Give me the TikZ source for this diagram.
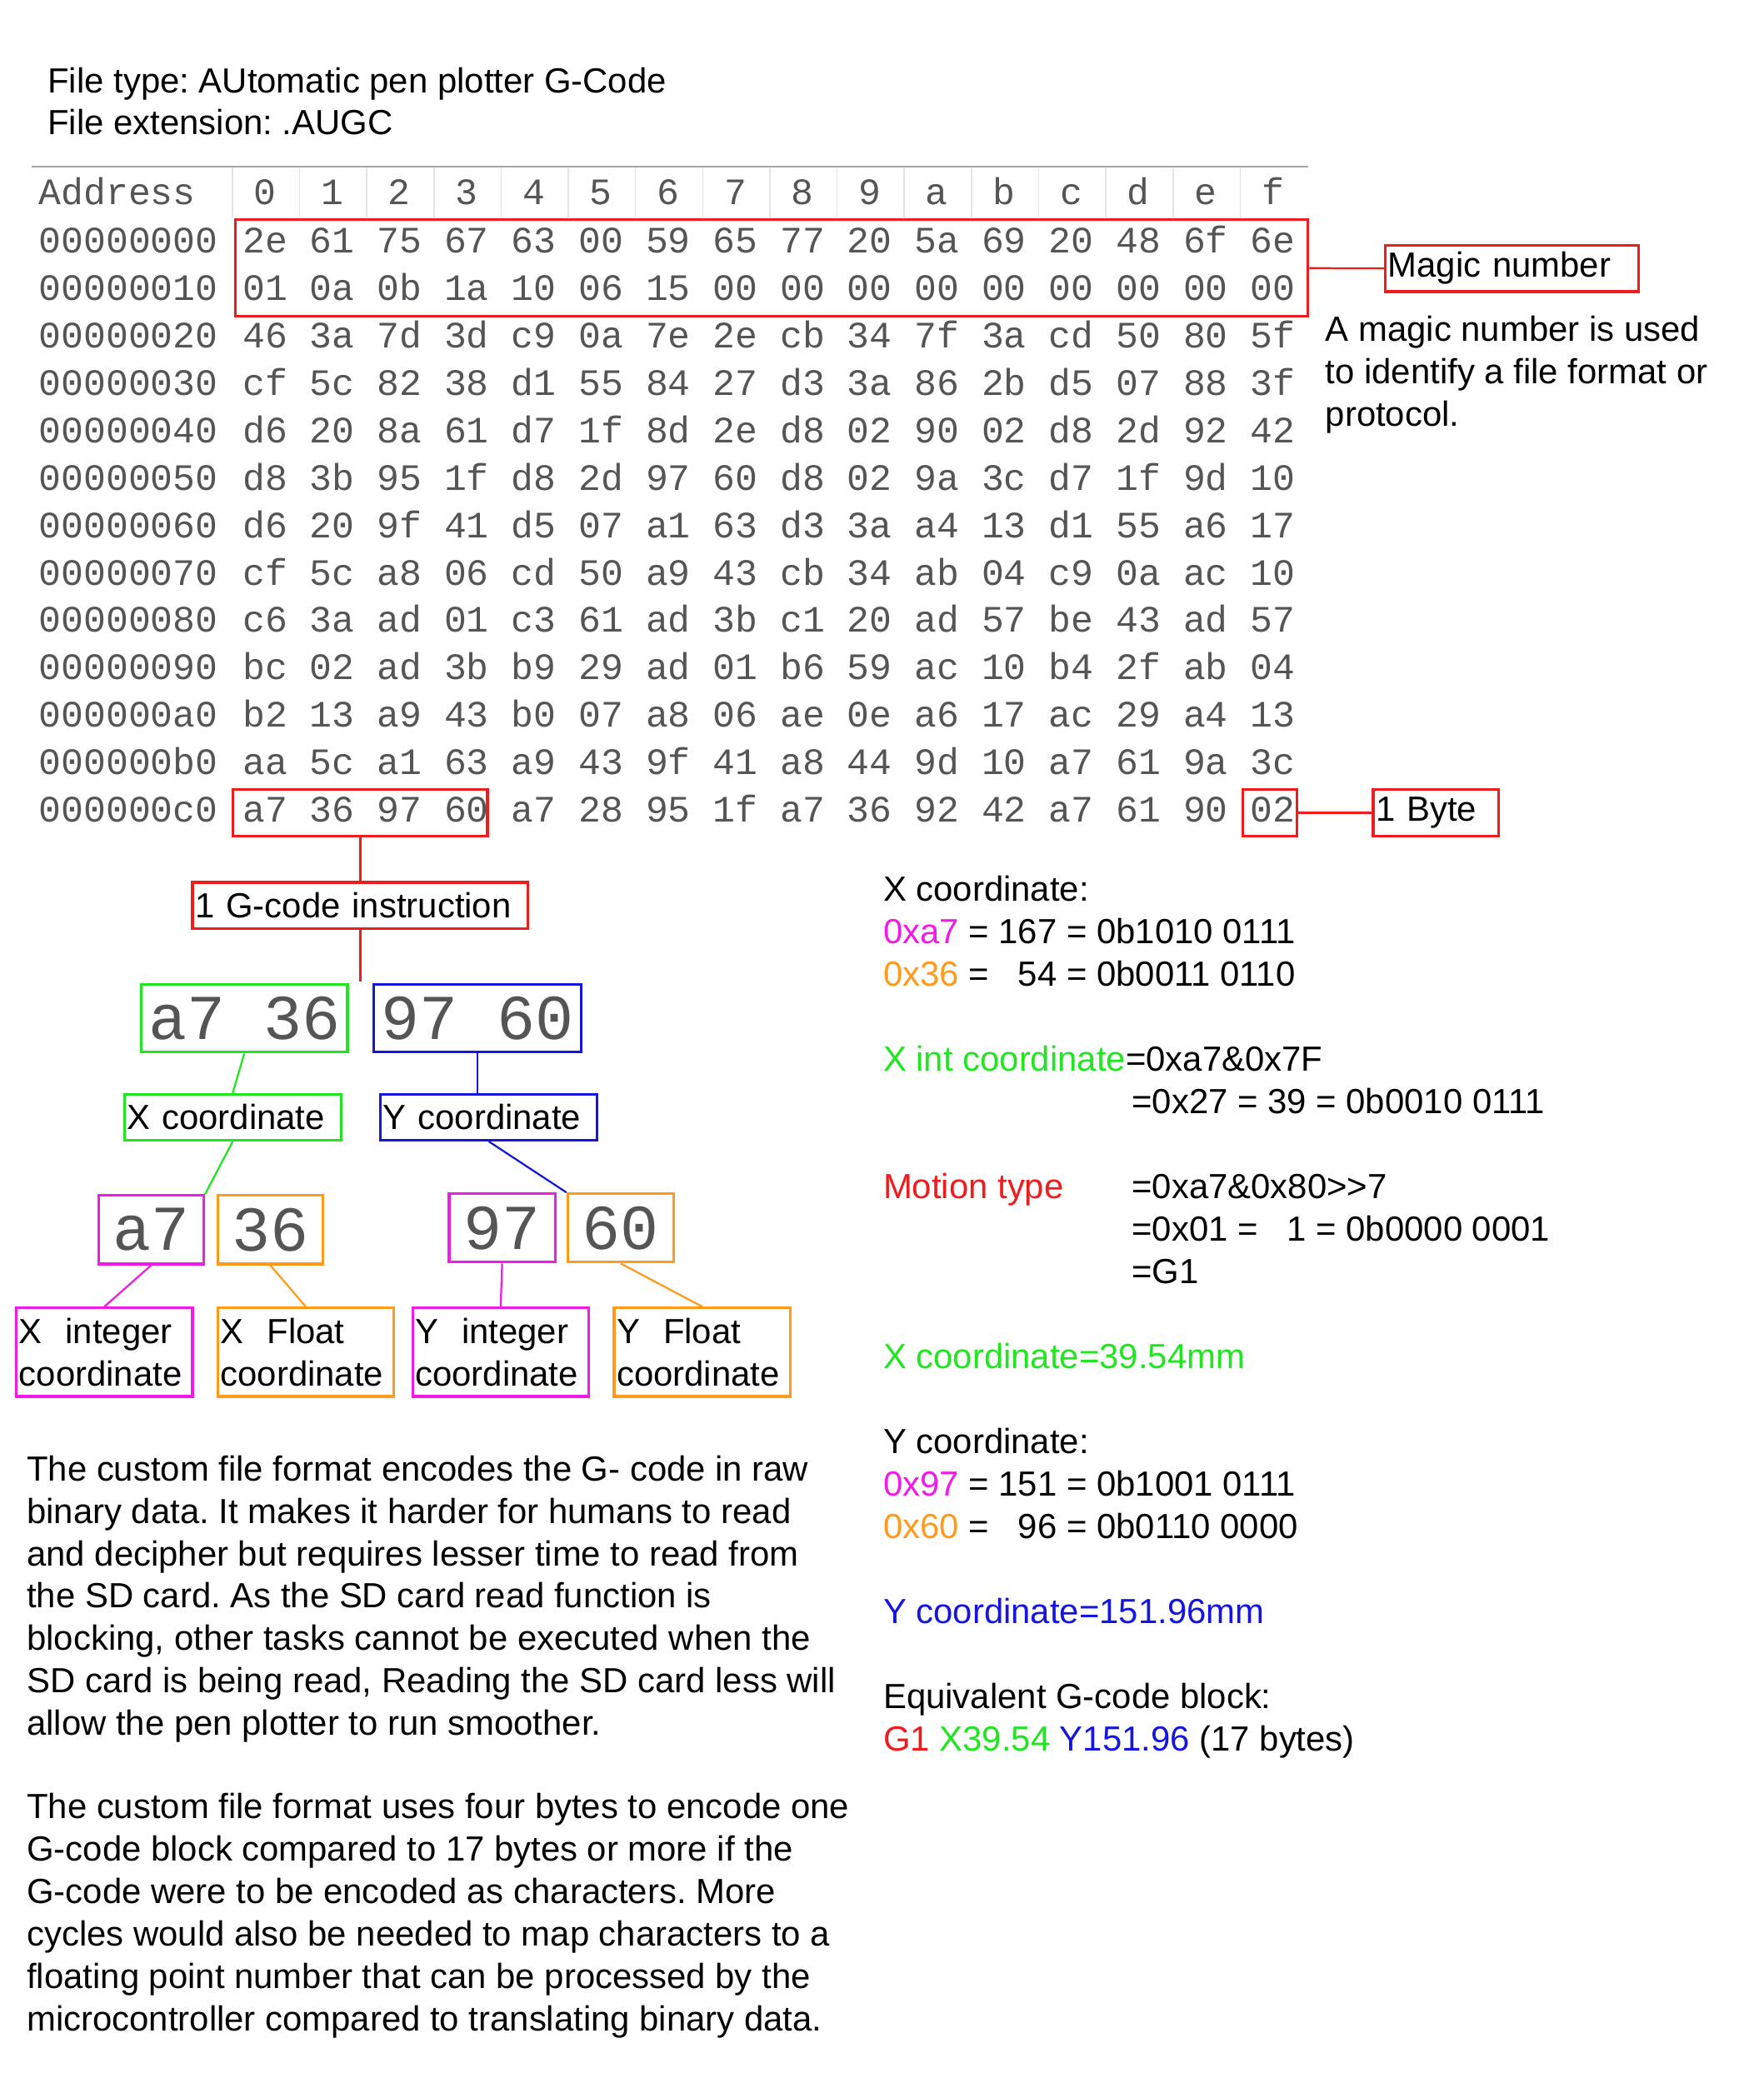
\documentclass[tikz,border=0pt]{standalone}
\usepackage{fontspec}
\setmainfont{Liberation Sans}
\setmonofont{Liberation Mono}
\usepackage{xcolor}
\frenchspacing
\definecolor{hexgray}{HTML}{555555}
\definecolor{ruleclr}{HTML}{A6A6A6}
\definecolor{sepclr}{HTML}{E4E4E4}
\definecolor{tagred}{HTML}{EE1C1C}
\definecolor{taggreen}{HTML}{22E522}
\definecolor{tagblue}{HTML}{1515DD}
\definecolor{tagpink}{HTML}{F01BE8}
\definecolor{tagorange}{HTML}{FF9A1A}
\newcommand{\txtfont}{\fontsize{26.2}{32}\selectfont}
\newcommand{\hexfont}{\ttfamily\fontsize{28}{34}\selectfont}
\newcommand{\bytefont}{\ttfamily\fontsize{48}{56}\selectfont}
\tikzset{
  hexcell/.style={font=\hexfont, text=hexgray, inner sep=0pt, anchor=base},
  tagbox/.style={draw=#1, line width=2pt, font=\txtfont, align=left, inner xsep=2pt, inner ysep=0pt},
  bytebox/.style={draw=#1, line width=2pt, font=\bytefont, text=hexgray, inner sep=0pt},
  link/.style={draw=#1, line width=1.4pt},
  say/.style={font=\txtfont, anchor=base west, inner sep=0pt},
}

\begin{document}
\begin{tikzpicture}[x=1pt,y=-1pt]
        \pgfmathsetmacro{\colw}{50.44}
        \pgfmathsetmacro{\rowh}{35.6}
        \useasboundingbox (0,0) rectangle (1324,1564);
        % heading
        \node[say] (ftype) at (35.7,69.8) {File type: AUtomatic pen plotter G-Code};
        \node[say] (fext) at (35.7,101) {File extension: .AUGC};
        % hex dump
        \draw[ruleclr, line width=1.5pt] (24,125) -- (982,125);
        \foreach \j in {0,...,15}
            \draw[sepclr, line width=1pt] ({174.5+\colw*\j},126) -- ++(0,37);
        \node[hexcell, anchor=base west] (addrhead) at (29,153.5) {Address};
        \foreach \h [count=\j from 0] in {0,1,2,3,4,5,6,7,8,9,a,b,c,d,e,f}
            \node[hexcell] (col\j) at ({199+\colw*\j},153.5) {\h};
        \foreach \addr/\bytes [count=\r from 0] in {
                00000000/{2e,61,75,67,63,00,59,65,77,20,5a,69,20,48,6f,6e},
                00000010/{01,0a,0b,1a,10,06,15,00,00,00,00,00,00,00,00,00},
                00000020/{46,3a,7d,3d,c9,0a,7e,2e,cb,34,7f,3a,cd,50,80,5f},
                00000030/{cf,5c,82,38,d1,55,84,27,d3,3a,86,2b,d5,07,88,3f},
                00000040/{d6,20,8a,61,d7,1f,8d,2e,d8,02,90,02,d8,2d,92,42},
                00000050/{d8,3b,95,1f,d8,2d,97,60,d8,02,9a,3c,d7,1f,9d,10},
                00000060/{d6,20,9f,41,d5,07,a1,63,d3,3a,a4,13,d1,55,a6,17},
                00000070/{cf,5c,a8,06,cd,50,a9,43,cb,34,ab,04,c9,0a,ac,10},
                00000080/{c6,3a,ad,01,c3,61,ad,3b,c1,20,ad,57,be,43,ad,57},
                00000090/{bc,02,ad,3b,b9,29,ad,01,b6,59,ac,10,b4,2f,ab,04},
                000000a0/{b2,13,a9,43,b0,07,a8,06,ae,0e,a6,17,ac,29,a4,13},
                000000b0/{aa,5c,a1,63,a9,43,9f,41,a8,44,9d,10,a7,61,9a,3c},
                000000c0/{a7,36,97,60,a7,28,95,1f,a7,36,92,42,a7,61,90,02}}{
            \node[hexcell, anchor=base west] (addr\r) at (29,{190+\rowh*\r}) {\addr};
            \foreach \v [count=\j from 0] in \bytes
                \node[hexcell] (b\r-\j) at ({199+\colw*\j},{190+\rowh*\r}) {\v};
        }
        % marked bytes
        \node[tagbox=tagred, minimum width=805.5, minimum height=72.6] (magic) at (579.3,201.3) {};
        \node[tagbox=tagred, text width=186, minimum height=35] (magiclbl) at (1135,201.5) {Magic number};
        \draw[link=tagred] (magic.east) -- (magiclbl.west);
        \node[say] (magicnote1) at (995,256) {A magic number is used};
        \node[say] (magicnote2) at (995,288) {to identify a file format or};
        \node[say] (magicnote3) at (995,320) {protocol.};
        \node[tagbox=tagred, minimum width=191, minimum height=35] (c0blk) at (270.5,610.2) {};
        \node[tagbox=tagred, minimum width=40.5, minimum height=35] (tailbyte) at (953.5,610.2) {};
        \node[tagbox=tagred, text width=90, minimum height=35] (bytelbl) at (1078,610.2) {1 Byte};
        \draw[link=tagred] (tailbyte.east) -- (bytelbl.west);
        % one instruction split up
        \node[tagbox=tagred, text width=248, minimum height=34.5] (gcodelbl) at (270.5,679.8) {1 G-code instruction};
        \coordinate (split) at (270.5,737);
        \draw[link=tagred] (c0blk.south) -- (gcodelbl.north);
        \draw[link=tagred] (gcodelbl.south) -- (split);
        \node[bytebox=taggreen, minimum width=155, minimum height=51] (xbytes) at (183.4,764.5) {a7 36};
        \node[bytebox=tagblue, minimum width=156, minimum height=51] (ybytes) at (358.5,764.5) {97 60};
        \node[tagbox=taggreen, text width=158.6, minimum height=34.3] (xcoord) at (174.7,838.9) {X coordinate};
        \node[tagbox=tagblue, text width=158.8, minimum height=34.3] (ycoord) at (367,838.9) {Y coordinate};
        \draw[link=taggreen] (xbytes.south) -- (xcoord.north);
        \draw[link=tagblue] (ybytes.south) -- (ybytes.south |- ycoord.north);
        \node[bytebox=tagpink, minimum width=79, minimum height=51.4] (xhi) at (113.5,923.3) {a7};
        \node[bytebox=tagorange, minimum width=79, minimum height=51.4] (xlo) at (203,923.3) {36};
        \node[bytebox=tagpink, minimum width=79.5, minimum height=51.4] (yhi) at (377,922) {97};
        \node[bytebox=tagorange, minimum width=79.5, minimum height=51.4] (ylo) at (466,922) {60};
        \draw[link=taggreen] (xcoord.south) -- (xhi.north east);
        \draw[link=tagblue] (ycoord.south) -- (ylo.north west);
        \node[tagbox=tagpink, text width=128.2, minimum height=66.5] (xint) at (78.4,1015.3) {X\ \ integer\\coordinate};
        \node[tagbox=tagorange, text width=127.9, minimum height=66.5] (xfl) at (229.5,1015.3) {X\ \ Float\\coordinate};
        \node[tagbox=tagpink, text width=128.3, minimum height=66.5] (yint) at (375.9,1015.3) {Y\ \ integer\\coordinate};
        \node[tagbox=tagorange, text width=128.3, minimum height=66.5] (yfl) at (527.2,1015.3) {Y\ \ Float\\coordinate};
        \draw[link=tagpink] (xhi.south) -- (xint.north);
        \draw[link=tagorange] (xlo.south) -- (xfl.north);
        \draw[link=tagpink] (yhi.south) -- (yint.north);
        \draw[link=tagorange] (ylo.south) -- (yfl.north);
        % decoding on the right
        \node[say] (xhead) at (663,676.5) {X coordinate:};
        \node[say] (xhival) at (663,708.4) {\textcolor{tagpink}{0xa7} = 167 = 0b1010 0111};
        \node[say] (xloval) at (663,740.3) {\textcolor{tagorange}{0x36} = \ \ 54 = 0b0011 0110};
        \node[say] (xintexpr) at (663,804.1) {\textcolor{taggreen}{X int coordinate}=0xa7\&0x7F};
        \node[say] (xintval) at (849.6,836) {=0x27 = 39 = 0b0010 0111};
        \node[say, text=tagred] (motion) at (663,899.8) {Motion type};
        \node[say] (motionexpr) at (849.6,899.8) {=0xa7\&0x80>{}>7};
        \node[say] (motionval) at (849.6,931.7) {=0x01 = \ \ 1 = 0b0000 0001};
        \node[say] (motiong) at (849.6,963.6) {=G1};
        \node[say, text=taggreen] (xresult) at (663,1027.4) {X coordinate=39.54mm};
        \node[say] (yhead) at (663,1091.2) {Y coordinate:};
        \node[say] (yhival) at (663,1123.1) {\textcolor{tagpink}{0x97} = 151 = 0b1001 0111};
        \node[say] (yloval) at (663,1155) {\textcolor{tagorange}{0x60} = \ \ 96 = 0b0110 0000};
        \node[say, text=tagblue] (yresult) at (663,1218.8) {Y coordinate=151.96mm};
        \node[say] (blockhead) at (663,1282.6) {Equivalent G-code block:};
        \node[say] (blockval) at (663,1314.5) {\textcolor{tagred}{G1} \textcolor{taggreen}{X39.54} \textcolor{tagblue}{Y151.96} (17 bytes)};
        % notes at the bottom
        \foreach \ln [count=\k from 0] in {
                The custom file format encodes the G- code in raw,
                binary data. It makes it harder for humans to read,
                and decipher but requires lesser time to read from,
                the SD card. As the SD card read function is,
                {blocking, other tasks cannot be executed when the},
                {SD card is being read, Reading the SD card less will},
                allow the pen plotter to run smoother.}
            \node[say] (whyA\k) at (20,{1112+31.75*\k}) {\ln};
        \foreach \ln [count=\k from 0] in {
                The custom file format uses four bytes to encode one,
                G-code block compared to 17 bytes or more if the,
                G-code were to be encoded as characters. More,
                cycles would also be needed to map characters to a,
                floating point number that can be processed by the,
                microcontroller compared to translating binary data.}
            \node[say] (whyB\k) at (20,{1365.4+31.85*\k}) {\ln};
\end{tikzpicture}
\end{document}
